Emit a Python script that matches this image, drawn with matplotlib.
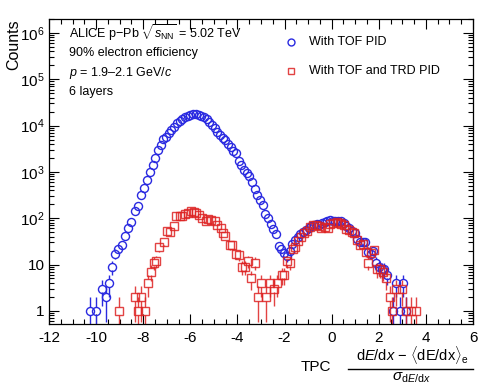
import numpy as np
import matplotlib
matplotlib.use("Agg")
import matplotlib.pyplot as plt
from matplotlib.ticker import FixedLocator, LogLocator, FuncFormatter, MultipleLocator
from matplotlib.lines import Line2D

plt.rcParams["font.family"] = ["Liberation Sans", "DejaVu Sans"]
plt.rcParams["mathtext.fontset"] = "custom"
plt.rcParams["mathtext.rm"] = "Liberation Sans"
plt.rcParams["mathtext.it"] = "Liberation Sans:italic"
plt.rcParams["mathtext.bf"] = "Liberation Sans:bold"
plt.rcParams["axes.unicode_minus"] = False

# Datos: con TOF PID (círculos azules)
x_tof = [-10.27, -10.00, -9.73, -9.59, -9.45, -9.32, -9.18, -9.05, -8.91, -8.77,
         -8.64, -8.50, -8.36, -8.23, -8.10, -7.97, -7.84, -7.72, -7.60, -7.49,
         -7.37, -7.26, -7.14, -7.03, -6.91, -6.80, -6.68, -6.57, -6.45, -6.34,
         -6.22, -6.11, -6.00, -5.88, -5.77, -5.65, -5.54, -5.43, -5.31, -5.20,
         -5.08, -4.97, -4.86, -4.74, -4.63, -4.52, -4.40, -4.29, -4.18, -4.06,
         -3.95, -3.84, -3.72, -3.61, -3.50, -3.38, -3.27, -3.15, -3.04, -2.92,
         -2.81, -2.70, -2.58, -2.47, -2.36, -2.24, -2.13, -2.01, -1.90, -1.79,
         -1.67, -1.56, -1.44, -1.33, -1.21, -1.10, -0.98, -0.87, -0.75, -0.64,
         -0.52, -0.41, -0.29, -0.18, -0.06, 0.05, 0.16, 0.28, 0.39, 0.51,
         0.62, 0.74, 0.85, 0.97, 1.08, 1.20, 1.31, 1.43, 1.54, 1.66,
         1.77, 1.89, 2.00, 2.12, 2.23, 2.35, 2.60, 2.72, 2.89, 3.03, 3.17]
n_tof = [1, 1, 3, 2, 4, 9, 17, 22, 27, 42,
         63, 81, 145, 186, 310, 460, 670, 1000, 1400, 2000,
         3000, 3900, 5100, 5600, 6900, 8100, 9500, 11200, 12300, 13800,
         15100, 16200, 17000, 17400, 17400, 17000, 16200, 15100, 13800, 12000,
         10500, 8700, 7400, 6300, 5500, 4800, 4000, 3400, 2800, 2500,
         1740, 1380, 1120, 930, 810, 600, 430, 316, 250, 195,
         126, 100, 76, 59, 46, 25, 22, 18, 15, 20,
         28, 34, 40, 45, 50, 56, 62, 68, 72, 74,
         72, 78, 81, 85, 91, 87, 85, 89, 85, 78,
         68, 60, 54, 48, 36, 31, 30, 30, 19, 17,
         20, 11, 9, 8, 8, 6, 1, 4, 1, 4, 1]

# Datos: con TOF y TRD PID (cuadrados rojos)
x_trd = [-9.04, -8.36, -8.22, -8.08, -7.94, -7.80, -7.68, -7.56, -7.44, -7.33,
         -7.13, -6.99, -6.85, -6.71, -6.59, -6.45, -6.34, -6.21, -6.10, -5.96,
         -5.86, -5.74, -5.63, -5.49, -5.35, -5.25, -5.11, -4.97, -4.85, -4.68,
         -4.61, -4.51, -4.33, -4.21, -4.07, -3.93, -3.79, -3.69, -3.55, -3.41,
         -3.27, -3.13, -3.01, -2.77, -2.63, -2.45, -2.33, -2.12, -2.01, -1.88,
         -1.76, -1.64, -1.55, -1.43, -1.31, -1.18, -1.06, -0.93, -0.79, -0.66,
         -0.55, -0.44, -0.30, -0.16, -0.05, 0.05, 0.22, 0.34, 0.41, 0.53,
         0.62, 0.74, 0.86, 0.93, 1.07, 1.22, 1.32, 1.44, 1.54, 1.68,
         1.79, 1.92, 2.06, 2.20, 2.31, 2.46, 2.58, 2.74, 3.00, 3.17,
         3.38, 3.59]
n_trd = [1, 2, 1, 2, 1, 4, 7, 11, 12, 24,
         31, 54, 50, 69, 109, 109, 112, 124, 127, 145,
         138, 127, 118, 100, 89, 97, 92, 85, 72, 61,
         48, 42, 26, 26, 17, 16, 9, 9, 12, 5,
         11, 2, 4, 2, 4, 3, 4, 6, 6, 12,
         11, 22, 24, 32, 40, 48, 54, 65, 72, 70,
         68, 62, 66, 62, 75, 78, 81, 80, 76, 70,
         58, 55, 50, 48, 34, 27, 28, 19, 11, 18,
         21, 8, 8, 7, 5, 2, 1, 3, 3, 1,
         1, 1]

azul = "#2a2ae0"
rojo = "#dd2222"

fig = plt.figure(figsize=(4.98, 3.87), dpi=100)
ax = fig.add_axes([49 / 498, 1 - 324 / 387, 424 / 498, 305 / 387])


def dibujar(ax, x, n, color, marker, ms, alpha=1.0):
    x = np.array(x, dtype=float)
    n = np.array(n, dtype=float)
    err = np.sqrt(n)
    gap = 1.2
    lo = np.maximum(n - err, 1e-3)
    hi = n + err
    m = lo < n / gap
    ax.vlines(x[m], lo[m], (n / gap)[m], color=color, lw=1.0, alpha=alpha)
    m = hi > n * gap
    ax.vlines(x[m], (n * gap)[m], hi[m], color=color, lw=1.0, alpha=alpha)
    ax.plot(x, n, ls="none", marker=marker, ms=ms, mfc="none", mec=color,
            mew=1.0, alpha=alpha)


dibujar(ax, x_tof, n_tof, azul, "o", 5.8)
dibujar(ax, x_trd, n_trd, rojo, "s", 5.6, alpha=0.85)

ax.set_yscale("log")
ax.set_xlim(-12, 6)
ax.set_ylim(0.52, 2.0e6)

ax.xaxis.set_major_locator(MultipleLocator(2))
ax.xaxis.set_minor_locator(MultipleLocator(0.5))
ax.yaxis.set_major_locator(FixedLocator([1, 10, 1e2, 1e3, 1e4, 1e5, 1e6]))
ax.yaxis.set_minor_locator(LogLocator(base=10, subs=np.arange(2, 10)))


def etiqueta_y(v, pos):
    if v == 1:
        return "1"
    if v == 10:
        return "10"
    return r"$10^{%d}$" % int(round(np.log10(v)))


ax.yaxis.set_major_formatter(FuncFormatter(etiqueta_y))
ax.tick_params(which="both", direction="in", top=True, right=True,
               labelsize=11, width=0.8)
ax.tick_params(which="major", length=7)
ax.tick_params(which="minor", length=3.5)
ax.tick_params(axis="x", pad=5)
ax.tick_params(axis="y", pad=3)
for s in ax.spines.values():
    s.set_linewidth(0.9)

# Etiqueta del eje y
fig.text(14 / 498, 1 - 19 / 387, "Counts", rotation=90, ha="center", va="top",
         fontsize=11.5)

# Textos dentro del gráfico
tx = 69 / 498
fig.text(tx, 1 - 33 / 387, r"ALICE p$-$Pb $\sqrt{s_{\mathrm{NN}}}$ = 5.02 TeV",
         ha="left", va="center", fontsize=9)
fig.text(tx, 1 - 53 / 387, "90% electron efficiency", ha="left", va="center",
         fontsize=9)
fig.text(tx, 1 - 73 / 387, r"$p$ = 1.9–2.1 GeV/$c$", ha="left", va="center",
         fontsize=9)
fig.text(tx, 1 - 92 / 387, "6 layers", ha="left", va="center", fontsize=9)

# Leyenda
for yy, mk, col, lab, a in [(42, "o", azul, "With TOF PID", 1.0),
                            (71, "s", rojo, "With TOF and TRD PID", 0.85)]:
    fig.add_artist(Line2D([291 / 498], [1 - yy / 387], ls="none", marker=mk,
                          ms=5, mfc="none", mec=col, mew=1.0, alpha=a))
    fig.text(309 / 498, 1 - yy / 387, lab, ha="left", va="center", fontsize=9)

# Etiqueta del eje x
fig.text(316 / 498, 1 - 367 / 387, "TPC", ha="center", va="center",
         fontsize=11)
fig.text(412 / 498, 1 - 355 / 387,
         r"d$E$/d$x$ $-$ $\langle$dE/dx$\rangle_{\mathrm{e}}$",
         ha="center", va="center", fontsize=10.5)
fig.add_artist(Line2D([348 / 498, 473 / 498], [1 - 369 / 387, 1 - 369 / 387],
                      color="black", lw=1.0))
fig.text(411 / 498, 1 - 378 / 387, r"$\sigma_{\mathrm{d}E/\mathrm{d}x}$",
         ha="center", va="center", fontsize=11)

fig.savefig("out.png", dpi=100)
